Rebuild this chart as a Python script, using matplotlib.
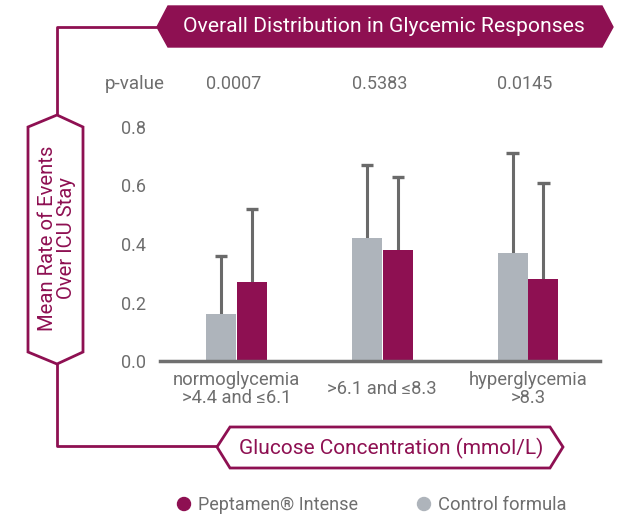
import matplotlib
matplotlib.use("Agg")
import matplotlib.pyplot as plt
from matplotlib.patches import Polygon, Circle
import numpy as np

plt.rcParams['font.family'] = ['Roboto', 'DejaVu Sans']

categories = ["normoglycemia\n>4.4 and \u22646.1", ">6.1 and \u22648.3", "hyperglycemia\n>8.3"]
p_values = ["0.0007", "0.5383", "0.0145"]
control_vals = [0.16, 0.42, 0.37]
control_err = [0.20, 0.25, 0.34]
peptamen_vals = [0.27, 0.38, 0.28]
peptamen_err = [0.25, 0.25, 0.33]
yticks = [0.0, 0.2, 0.4, 0.6, 0.8]
series_names = ["Peptamen\u00ae Intense", "Control formula"]

PURPLE = "#8E1052"
GRAY = "#AEB4BB"
TXT = "#6E6E6E"
ERR = "#6A6A6A"

W, H = 619, 515
fig = plt.figure(figsize=(W/100, H/100), dpi=100)

# main axes in pixel coords
ax_l, ax_r = 160, 600
y0_px, scale = 361, 292.5
ax_b = H - y0_px
top_px = y0_px - 0.8 * scale
ax = fig.add_axes([ax_l/W, ax_b/H, (ax_r-ax_l)/W, (y0_px-top_px)/H])
c0, sp = 236.5, 145.75
ax.set_xlim((ax_l - c0)/sp, (ax_r - c0)/sp)
ax.set_ylim(0, 0.8)
x = np.arange(len(categories))
bw = 0.206
off = 0.106
capw = 0.042
ax.bar(x - off, control_vals, bw, color=GRAY, zorder=2)
ax.bar(x + off, peptamen_vals, bw, color=PURPLE, zorder=2)
for xs, vals, errs in [(x - off, control_vals, control_err), (x + off, peptamen_vals, peptamen_err)]:
    tops = np.array(vals) + np.array(errs)
    ax.vlines(xs, vals, tops, color=ERR, lw=2.2, zorder=1, clip_on=False)
    ax.hlines(tops, xs - capw, xs + capw, color=ERR, lw=2.4, zorder=1, clip_on=False)
for s in ['top', 'right', 'left']:
    ax.spines[s].set_visible(False)
ax.spines['bottom'].set_color("#707070")
ax.spines['bottom'].set_linewidth(2.5)
ax.spines['bottom'].set_zorder(3)
ax.set_yticks(yticks)
ax.set_yticklabels([f"{v:.1f}" for v in yticks], color=TXT, fontsize=13)
ax.tick_params(axis='y', length=0, pad=10)
ax.set_xticks(x)
ax.set_xticklabels([])
ax.tick_params(axis='x', length=0)
trans = ax.get_xaxis_transform()
for i, c in enumerate(categories):
    ax.annotate(c, xy=(x[i], 0), xycoords=trans, xytext=(0, -28), textcoords='offset pixels',
                ha='center', va='center', color=TXT, fontsize=13.2, linespacing=1.02,
                annotation_clip=False)

# overlay for decorations
ov2 = fig.add_axes([0, 0, 1, 1], zorder=5)
ov2.set_xlim(0, W)
ov2.set_ylim(H, 0)
ov2.axis('off')
ov2.patch.set_alpha(0)

# p-value row
ov2.text(135, 84, "p-value", color=TXT, fontsize=13.5, ha='center', va='center')
for i, p in enumerate(p_values):
    ov2.text(c0 + sp*i - 3, 84, p, color=TXT, fontsize=13, ha='center', va='center')

# top banner
top_poly = [(157, 27), (168, 6), (602, 6), (613, 27), (602, 47), (168, 47)]
ov2.add_patch(Polygon(top_poly, closed=True, facecolor=PURPLE, edgecolor=PURPLE))
ov2.text(384, 27, "Overall Distribution in Glycemic Responses", color='white',
         fontsize=15.2, ha='center', va='center')

# connector lines
ov2.plot([157, 57, 57], [27, 27, 115], color=PURPLE, lw=2, solid_capstyle='butt')
ov2.plot([57, 57, 217], [363, 446, 446], color=PURPLE, lw=2, solid_capstyle='butt')

# left hexagon
left_poly = [(57, 115), (83, 127), (83, 352), (57, 364), (28, 352), (28, 127)]
ov2.add_patch(Polygon(left_poly, closed=True, facecolor='white', edgecolor=PURPLE, lw=2))
ov2.text(57, 238, "Mean Rate of Events\nOver ICU Stay", color=PURPLE, fontsize=14.6,
         rotation=90, ha='center', va='center', linespacing=1.0)

# bottom banner
bot_poly = [(217, 447), (230, 427), (550, 427), (563, 447), (550, 468), (230, 468)]
ov2.add_patch(Polygon(bot_poly, closed=True, facecolor='white', edgecolor=PURPLE, lw=2))
ov2.text(391, 448, "Glucose Concentration (mmol/L)", color=PURPLE, fontsize=15,
         ha='center', va='center')

# legend
ov2.add_patch(Circle((184, 504), 6.5, color=PURPLE))
ov2.text(198, 505, series_names[0], color=TXT, fontsize=13, ha='left', va='center')
ov2.add_patch(Circle((424, 504), 6.5, color=GRAY))
ov2.text(438, 505, series_names[1], color=TXT, fontsize=13.2, ha='left', va='center')

fig.savefig("out.png", dpi=100)
